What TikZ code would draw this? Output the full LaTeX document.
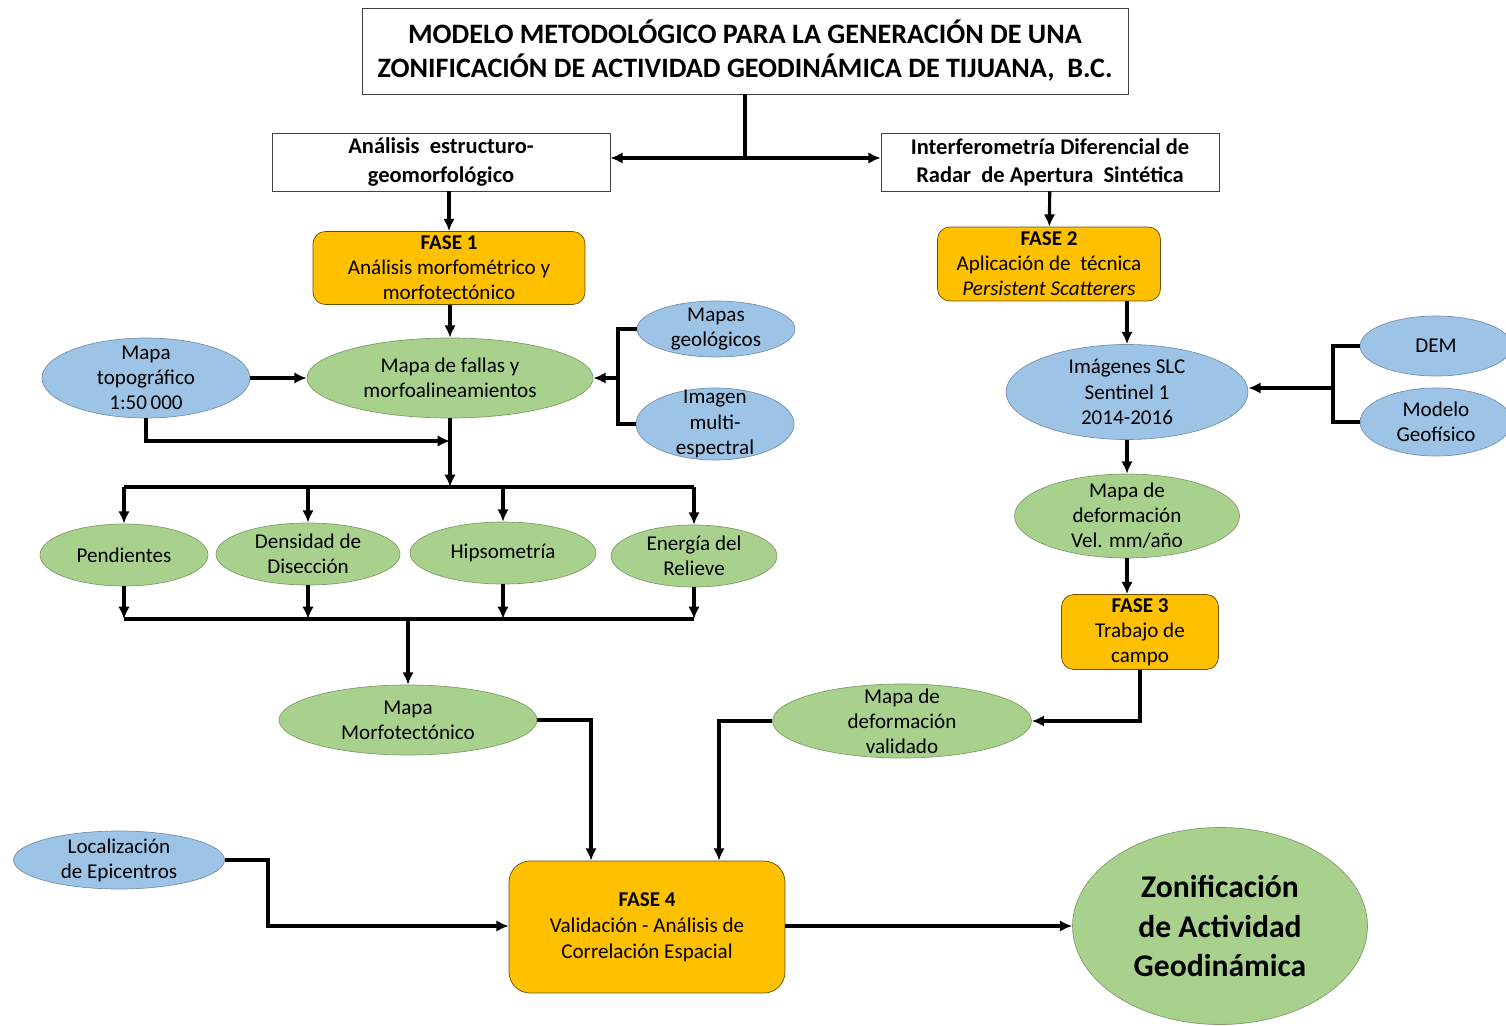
\documentclass[tikz,border=0pt]{standalone}
\usepackage{fontspec}
\setmainfont{Carlito}
\usetikzlibrary{arrows.meta,shapes.geometric}

\definecolor{azul}{HTML}{9DC3E6}
\definecolor{verde}{HTML}{A9D18E}
\definecolor{naranja}{HTML}{FFC000}

\tikzset{
    texto/.style={align=center, font=\fontsize{12}{14.3}\selectfont},
    caja/.style={draw=black!75, fill=white, align=center, inner sep=0pt,
        font=\bfseries\fontsize{12.8}{16}\selectfont},
    fase/.style={draw=black!60!naranja, fill=naranja, rounded corners=7pt,
        align=center, inner sep=0pt, font=\fontsize{12}{14.3}\selectfont},
    elipazul/.style={ellipse, draw=azul!75!black, fill=azul, inner sep=0pt},
    elipverde/.style={ellipse, draw=verde!75!black, fill=verde, inner sep=0pt},
    linea/.style={line width=1.8pt},
    flecha/.style={line width=1.8pt, -{Latex[length=7pt,width=6.5pt]}}
}

\begin{document}
\begin{tikzpicture}[x=0.02cm, y=-0.02cm]
    \useasboundingbox (0,0) rectangle (1506,1026);
    \clip (0,0) rectangle (1506,1026);

    % titulo y ramas
    \node[caja, font=\bfseries\fontsize{16}{19.4}\selectfont, minimum width=15.32cm, minimum height=1.72cm]
        (titulo) at (745,51) {MODELO METODOLÓGICO PARA LA GENERACIÓN DE UNA\\ZONIFICACIÓN DE ACTIVIDAD GEODINÁMICA DE TIJUANA,\ \ B.C.};
    \node[caja, minimum width=6.76cm, minimum height=1.16cm] (estructuro) at (441,162) {Análisis\ \ estructuro-\\geomorfológico};
    \node[caja, minimum width=6.76cm, minimum height=1.16cm] (interf) at (1050,162) {Interferometría Diferencial de\\Radar\ \ de Apertura\ \ Sintética};

    % fases
    \node[fase, minimum width=5.44cm, minimum height=1.46cm] (fase1) at (449,268) {\textbf{FASE 1}\\Análisis morfométrico y\\morfotectónico};
    \node[fase, minimum width=4.46cm, minimum height=1.48cm] (fase2) at (1049,264) {\textbf{FASE 2}\\Aplicación de\ \ técnica\\\textit{Persistent Scatterers}};
    \node[fase, minimum width=3.14cm, minimum height=1.5cm] (fase3) at (1140,632) {\textbf{FASE 3}\\Trabajo de\\campo};
    \node[fase, rounded corners=12pt, minimum width=5.52cm, minimum height=2.64cm, font=\fontsize{12}{14.8}\selectfont] (fase4) at (647,927) {\textbf{FASE 4}\\Validación - Análisis de\\Correlación Espacial};

    % elipses del lado izquierdo
    \node[elipazul, minimum width=4.16cm, minimum height=1.6cm, label={[texto]center:{Mapa\\topográfico\\1:50\,000}}] (topo) at (146,378) {};
    \node[elipverde, minimum width=5.72cm, minimum height=1.6cm, label={[texto]center:{Mapa de fallas y\\morfoalineamientos}}] (fallas) at (450,378) {};
    \node[elipazul, minimum width=3.16cm, minimum height=1.12cm, label={[texto]center:{Mapas\\geológicos}}] (geol) at (716,329) {};
    \node[elipazul, minimum width=3.16cm, minimum height=1.44cm, label={[texto]center:{Imagen\\multi-\\espectral}}] (imagen) at (715,424) {};

    \node[elipverde, minimum width=3.36cm, minimum height=1.24cm, label={[texto]center:Pendientes}] (pend) at (124,555) {};
    \node[elipverde, minimum width=3.68cm, minimum height=1.24cm, label={[texto]center:{Densidad de\\Disección}}] (dens) at (308,554) {};
    \node[elipverde, minimum width=3.72cm, minimum height=1.24cm, label={[texto]center:Hipsometría}] (hips) at (503,553) {};
    \node[elipverde, minimum width=3.32cm, minimum height=1.24cm, label={[texto]center:{Energía del\\Relieve}}] (energ) at (694,556) {};

    \node[elipverde, minimum width=5.16cm, minimum height=1.4cm, label={[texto]center:{Mapa\\Morfotectónico}}] (morfo) at (408,720) {};
    \node[elipazul, minimum width=4.22cm, minimum height=1.16cm, label={[texto]center:{Localización\\de Epicentros}}] (epic) at (119,860) {};

    % elipses del lado derecho
    \node[elipazul, minimum width=4.84cm, minimum height=1.9cm, label={[texto]center:{Imágenes SLC\\Sentinel 1\\2014-2016}}] (slc) at (1127,392) {};
    \node[elipazul, minimum width=3.04cm, minimum height=1.2cm, label={[texto]center:DEM}] (dem) at (1436,346) {};
    \node[elipazul, minimum width=3.04cm, minimum height=1.36cm, label={[texto]center:{Modelo\\Geofísico}}] (geof) at (1436,422) {};
    \node[elipverde, minimum width=4.5cm, minimum height=1.68cm, label={[texto]center:{Mapa de\\deformación\\Vel. mm/año}}] (deform) at (1127,516) {};
    \node[elipverde, minimum width=5.18cm, minimum height=1.48cm, label={[texto]center:{Mapa de\\deformación\\validado}}] (valid) at (902,721) {};

    \node[elipverde, minimum width=5.9cm, minimum height=3.94cm, label={[align=center, font=\bfseries\fontsize{18}{22.6}\selectfont]center:{Zonificación\\de Actividad\\Geodinámica}}] (zona) at (1220,926) {};

    % puntos de union
    \coordinate (bifurc) at (745,158);
    \coordinate (ramaI) at (618,378);
    \coordinate (union) at (450,441);
    \coordinate (busA) at (450,487);
    \coordinate (busB) at (408,619);
    \coordinate (ramaD) at (1333,388);
    \coordinate (codo) at (268,926);

    % conectores
    \draw[linea] (titulo) -- (bifurc);
    \draw[flecha] (bifurc) -- (bifurc -| estructuro.east);
    \draw[flecha] (bifurc) -- (bifurc -| interf.west);
    \draw[flecha] (fase1.north |- estructuro.south) -- (fase1.north);
    \draw[flecha] (interf) -- (fase2);

    \draw[flecha] (fallas.north |- fase1.south) -- (fallas.north);
    \draw[flecha] (topo) -- (fallas);
    \draw[linea] (geol.west) -| (ramaI) |- (imagen.west);
    \draw[flecha] (ramaI) -- (fallas.east);
    \draw[flecha] (topo.south) |- (union);
    \draw[flecha] (fallas.south) -- (busA);
    \draw[linea] (busA -| pend.north) -- (busA -| energ.north);
    \foreach \n in {pend,dens,hips,energ}
        \draw[flecha] (busA -| \n.north) -- (\n.north);
    \foreach \n in {pend,dens,hips,energ}
        \draw[flecha] (\n.south) -- (\n.south |- busB);
    \draw[linea] (busB -| pend.south) -- (busB -| energ.south);
    \draw[flecha] (busB) -- (morfo.north);
    \draw[flecha] (morfo.east) -| ([xshift=-1.12cm]fase4.north);

    \draw[flecha] (slc.north |- fase2.south) -- (slc.north);
    \draw[linea] (dem.west) -| (ramaD) |- (geof.west);
    \draw[flecha] (ramaD) -- (ramaD -| slc.east);
    \draw[flecha] (slc) -- (deform);
    \draw[flecha] (deform.south) -- (deform.south |- fase3.north);
    \draw[flecha] (fase3.south) |- (valid.east);
    \draw[flecha] (valid.west) -| ([xshift=1.44cm]fase4.north);

    \draw[flecha] (epic.east) -| (codo) -- (fase4.west |- codo);
    \draw[flecha] (fase4.east |- codo) -- (zona.west);
\end{tikzpicture}
\end{document}
